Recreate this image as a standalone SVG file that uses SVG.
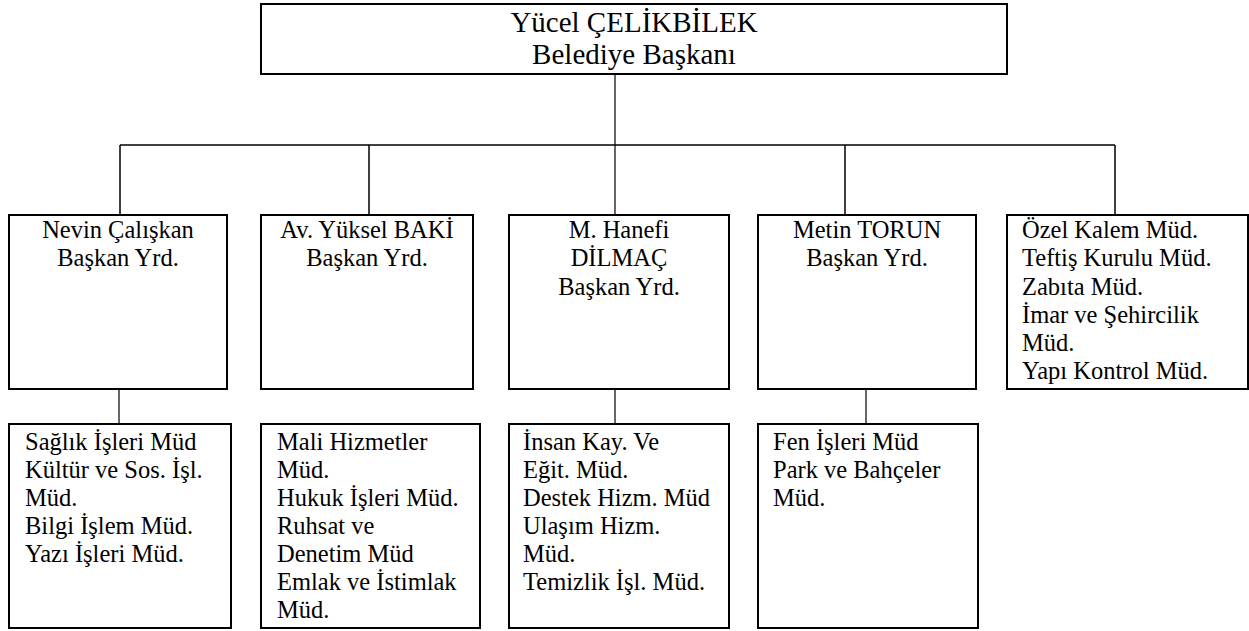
<svg xmlns="http://www.w3.org/2000/svg" width="1249" height="631" viewBox="0 0 1249 631">
<style>
.box{fill:#fff;stroke:#000;stroke-width:2}
.c{fill:none;stroke:#000;stroke-width:1.5}
.t{font-family:"Liberation Serif","Times New Roman",serif;font-size:24.5px;fill:#000}
.m{text-anchor:middle}
.top{font-size:29px}
</style>
<rect width="1249" height="631" fill="#fff"/>
<g id="connectors">
<line class="c" x1="615" y1="75" x2="615" y2="215" style="stroke-width:1.2"/>
<line class="c" x1="120" y1="145" x2="1115" y2="145"/>
<line class="c" x1="120" y1="145" x2="120" y2="215"/>
<line class="c" x1="369" y1="145" x2="369" y2="215"/>
<line class="c" x1="845" y1="145" x2="845" y2="215"/>
<line class="c" x1="1115" y1="145" x2="1115" y2="215"/>
<line class="c" x1="119" y1="389" x2="119" y2="424" style="stroke-width:1.2"/>
<line class="c" x1="615" y1="389" x2="615" y2="424" style="stroke-width:1.2"/>
<line class="c" x1="866" y1="389" x2="866" y2="424" style="stroke-width:1.2"/>
</g>
<g id="mayor">
<rect class="box" x="261" y="4" width="746" height="70"/>
<text class="t m top" x="634" y="32">Yücel ÇELİKBİLEK</text>
<text class="t m top" x="634" y="64">Belediye Başkanı</text>
</g>
<g id="yrd1">
<rect class="box" x="9" y="215" width="218" height="174"/>
<text class="t m" x="118" y="238">Nevin Çalışkan</text>
<text class="t m" x="118" y="266">Başkan Yrd.</text>
</g>
<g id="yrd2">
<rect class="box" x="261" y="215" width="212" height="174"/>
<text class="t m" x="367" y="238">Av. Yüksel BAKİ</text>
<text class="t m" x="367" y="266">Başkan Yrd.</text>
</g>
<g id="yrd3">
<rect class="box" x="509" y="215" width="220" height="174"/>
<text class="t m" x="619" y="238">M. Hanefi</text>
<text class="t m" x="619" y="266">DİLMAÇ</text>
<text class="t m" x="619" y="295">Başkan Yrd.</text>
</g>
<g id="yrd4">
<rect class="box" x="758" y="215" width="218" height="174"/>
<text class="t m" x="867" y="238">Metin TORUN</text>
<text class="t m" x="867" y="266">Başkan Yrd.</text>
</g>
<g id="direct">
<rect class="box" x="1007" y="215" width="241" height="174"/>
<text class="t" x="1022" y="238">Özel Kalem Müd.</text>
<text class="t" x="1022" y="266">Teftiş Kurulu Müd.</text>
<text class="t" x="1022" y="295">Zabıta Müd.</text>
<text class="t" x="1022" y="323">İmar ve Şehircilik</text>
<text class="t" x="1022" y="351">Müd.</text>
<text class="t" x="1022" y="379">Yapı Kontrol Müd.</text>
</g>
<g id="dept1">
<rect class="box" x="9" y="424" width="222" height="204"/>
<text class="t" x="25" y="450">Sağlık İşleri Müd</text>
<text class="t" x="25" y="478">Kültür ve Sos. İşl.</text>
<text class="t" x="25" y="506">Müd.</text>
<text class="t" x="25" y="534">Bilgi İşlem Müd.</text>
<text class="t" x="25" y="562">Yazı İşleri Müd.</text>
</g>
<g id="dept2">
<rect class="box" x="261" y="424" width="219" height="204"/>
<text class="t" x="277" y="450">Mali Hizmetler</text>
<text class="t" x="277" y="478">Müd.</text>
<text class="t" x="277" y="506">Hukuk İşleri Müd.</text>
<text class="t" x="277" y="534">Ruhsat ve</text>
<text class="t" x="277" y="562">Denetim Müd</text>
<text class="t" x="277" y="590">Emlak ve İstimlak</text>
<text class="t" x="277" y="618">Müd.</text>
</g>
<g id="dept3">
<rect class="box" x="509" y="424" width="220" height="204"/>
<text class="t" x="523" y="450">İnsan Kay. Ve</text>
<text class="t" x="523" y="478">Eğit. Müd.</text>
<text class="t" x="523" y="506">Destek Hizm. Müd</text>
<text class="t" x="523" y="534">Ulaşım Hizm.</text>
<text class="t" x="523" y="562">Müd.</text>
<text class="t" x="523" y="590">Temizlik İşl. Müd.</text>
</g>
<g id="dept4">
<rect class="box" x="758" y="424" width="220" height="204"/>
<text class="t" x="773" y="450">Fen İşleri Müd</text>
<text class="t" x="773" y="478">Park ve Bahçeler</text>
<text class="t" x="773" y="506">Müd.</text>
</g>
</svg>
